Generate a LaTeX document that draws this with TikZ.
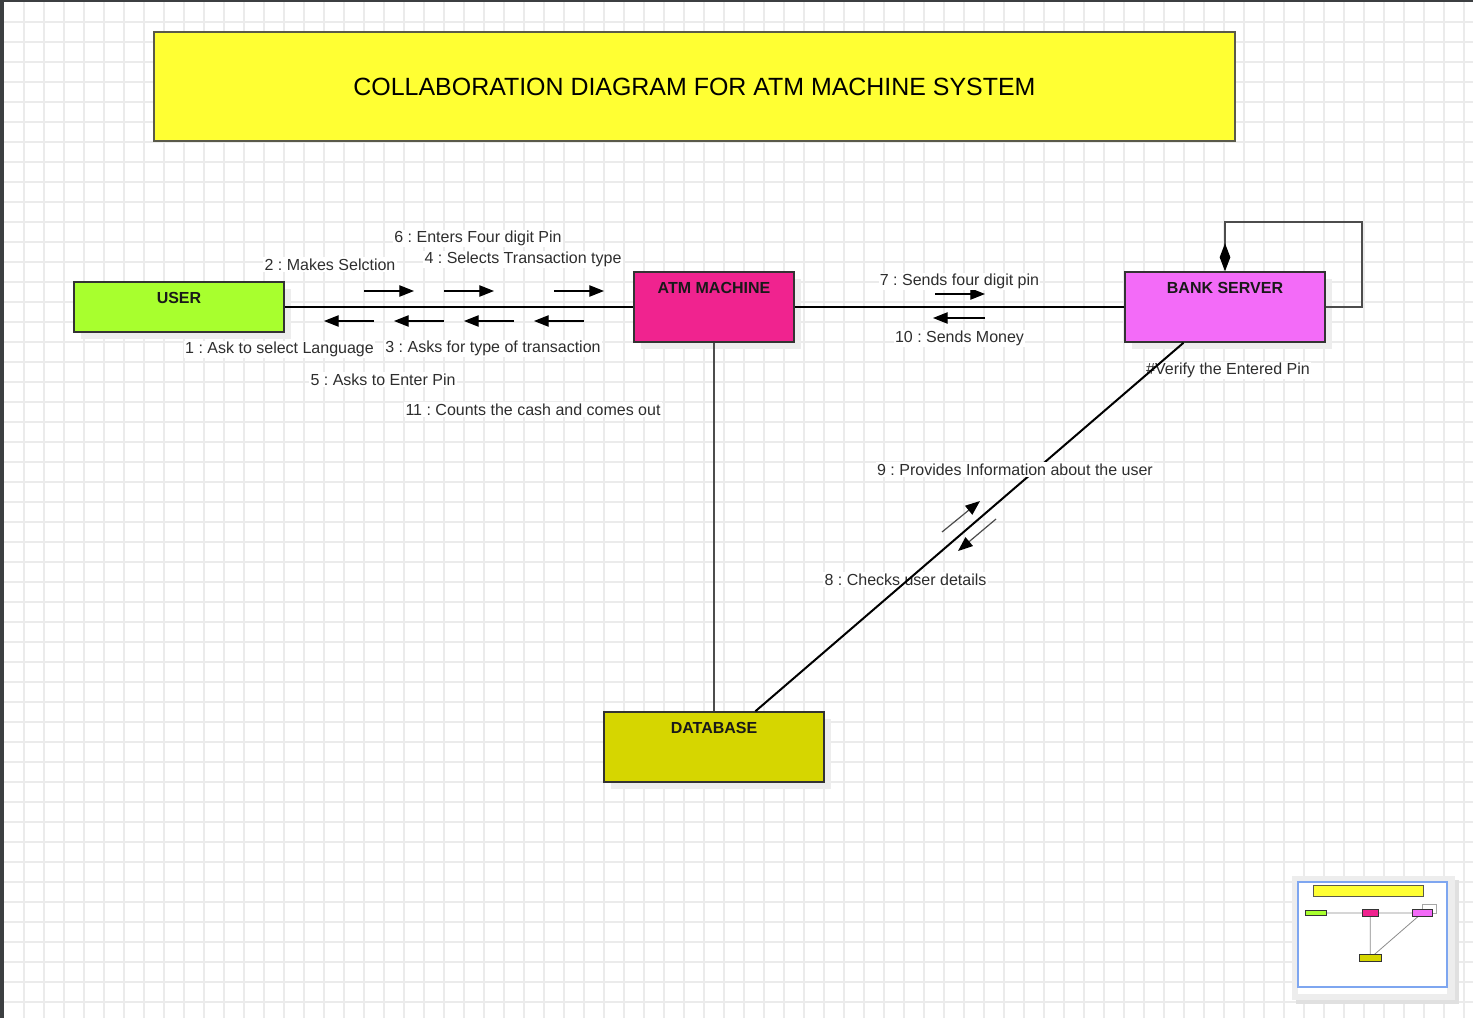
\documentclass[tikz,border=0pt]{standalone}
\usepackage{fontspec}
\setmainfont{Liberation Sans}
\usetikzlibrary{arrows.meta,shadows}
\frenchspacing

\definecolor{titleyellow}{HTML}{FFFF33}
\definecolor{userlime}{HTML}{A8FF2E}
\definecolor{atmpink}{HTML}{F0238F}
\definecolor{bankviolet}{HTML}{F36BF8}
\definecolor{dbolive}{HTML}{D6D600}
\definecolor{gridgray}{HTML}{EBEBEB}
\definecolor{edgedark}{HTML}{333333}
\definecolor{titleedge}{HTML}{5A5A4A}
\definecolor{framedark}{HTML}{3C3F41}
\definecolor{mapblue}{HTML}{7EA6F0}

\begin{document}
\begin{tikzpicture}[x=0.75pt,y=-0.75pt,
    box/.style={draw=edgedark,line width=1.1pt,inner sep=0pt,
      drop shadow={shadow xshift=5pt,shadow yshift=-5pt,fill=black!7,opacity=1}},
    boxlabel/.style={font=\bfseries\fontsize{12}{14}\selectfont,text=black!90},
    msglabel/.style={font=\fontsize{12}{14}\selectfont,text=black!82,fill=white,inner sep=1pt,yshift=-1pt},
    link/.style={line width=1.5pt},
    thinlink/.style={line width=0.9pt,draw=black!70},
    msg/.style={line width=0.9pt,-{Triangle[length=11pt,width=8.5pt]}},
    gridline/.style={draw=gridgray,line width=1.1pt}]

    \useasboundingbox (0,0) rectangle (1473,1018);

    % canvas
    \fill[white] (0,0) rectangle (1473,1018);
    \foreach \gx in {24,44,...,1464} \draw[gridline] (\gx,2) -- (\gx,1018);
    \foreach \gy in {22,42,...,1002} \draw[gridline] (4,\gy) -- (1473,\gy);
    \fill[framedark] (0,0) rectangle (4,1018);
    \fill[framedark] (0,0) rectangle (1473,2);

    % title
    \node[draw=titleedge,line width=1.5pt,fill=titleyellow,minimum width=810.75pt,minimum height=81.75pt,
          font=\fontsize{18.7}{22}\selectfont] (title) at (694.5,86.5) {COLLABORATION DIAGRAM FOR ATM MACHINE SYSTEM};

    % objects
    \node[box,fill=userlime,minimum width=157.5pt,minimum height=37.5pt,
          label={[boxlabel,anchor=center,yshift=-12.75pt]north:USER}] (user) at (179,307) {};
    \node[box,fill=atmpink,minimum width=120pt,minimum height=52.5pt,
          label={[boxlabel,anchor=center,yshift=-12.75pt]north:ATM MACHINE}] (atm) at (714,307) {};
    \node[box,fill=bankviolet,minimum width=150pt,minimum height=52.5pt,
          label={[boxlabel,anchor=center,yshift=-12.75pt]north:BANK SERVER}] (bank) at (1225,307) {};
    \node[box,fill=dbolive,minimum width=165pt,minimum height=52.5pt,
          label={[boxlabel,anchor=center,yshift=-12.75pt]north:DATABASE}] (db) at (714,747) {};

    \node[msglabel] (verify) at (1228,369) {\#Verify the Entered Pin};
    \node[msglabel] (m8) at (905.5,578) {8 : Checks user details};

    % links
    \draw[link] (user) -- (atm);
    \draw[link] (atm) -- (bank);
    \draw[thinlink] (atm) -- (db);
    \draw[link] (bank) -- (db);

    \coordinate (loopright) at (1362,307);
    \coordinate (looptop) at (1362,222);
    \draw[thinlink,-{Diamond[length=21pt,width=8pt,fill=black,color=black]}] (bank.east) -- (loopright) -- (looptop) -| (bank.north);

    % messages
    \foreach \ax in {364,444,554} \draw[msg] (\ax,291) -- ++(50,0);
    \foreach \ax in {374,444,514,584} \draw[msg] (\ax,321) -- ++(-50,0);
    \draw[msg] (935,294) -- ++(50,0);
    \draw[msg] (985,318) -- ++(-52,0);
    \draw[msg,draw=black!70,-{Triangle[length=11pt,width=8.5pt,color=black]}] (942,532) -- (980,501);
    \draw[msg,draw=black!70,-{Triangle[length=11pt,width=8.5pt,color=black]}] (996,519) -- (958,551);

    \node[msglabel] (m6) at (478,237) {6 : Enters Four digit Pin};
    \node[msglabel] (m2) at (330,263) {2 : Makes Selction};
    \node[msglabel] (m4) at (523,258) {4 : Selects Transaction type};
    \node[msglabel] (m1) at (279.5,348) {1 : Ask to select Language};
    \node[msglabel] (m3) at (493,347) {3 : Asks for type of transaction};
    \node[msglabel] (m5) at (383,378) {5 : Asks to Enter Pin};
    \node[msglabel] (m11) at (533,408) {11 : Counts the cash and comes out};
    \node[msglabel] (m7) at (959.5,280) {7 : Sends four digit pin};
    \node[msglabel] (m10) at (959.5,337) {10 : Sends Money};
    \node[msglabel] (m9) at (1015,468) {9 : Provides Information about the user};

    % outline view
    \fill[black!7,drop shadow={shadow xshift=3pt,shadow yshift=-3pt,fill=black!12,opacity=1}] (1292,876) rectangle (1455,1000);
    \fill[white] (1298,882) rectangle (1447,994);
    \draw[mapblue,line width=0.8pt] (1298,882) rectangle (1447,987);
    \begin{scope}[shift={(1297.3,881.7)},scale=0.102]
        \draw[titleedge,fill=titleyellow,line width=0.3pt] (154,32) rectangle (1235,141);
        \draw[black!45,line width=0.6pt] (284,307) -- (1125,307) (714,342) -- (714,712) (1183,342) -- (757,712);
        \draw[black!35,line width=0.4pt] (1325,307) -- (1362,307) -- (1362,222) -- (1225,222) -- (1225,272);
        \draw[edgedark,fill=userlime,line width=0.3pt] (74,282) rectangle (284,332);
        \draw[edgedark,fill=atmpink,line width=0.3pt] (634,272) rectangle (794,342);
        \draw[edgedark,fill=bankviolet,line width=0.3pt] (1125,272) rectangle (1325,342);
        \draw[edgedark,fill=dbolive,line width=0.3pt] (604,712) rectangle (824,782);
    \end{scope}
\end{tikzpicture}
\end{document}
